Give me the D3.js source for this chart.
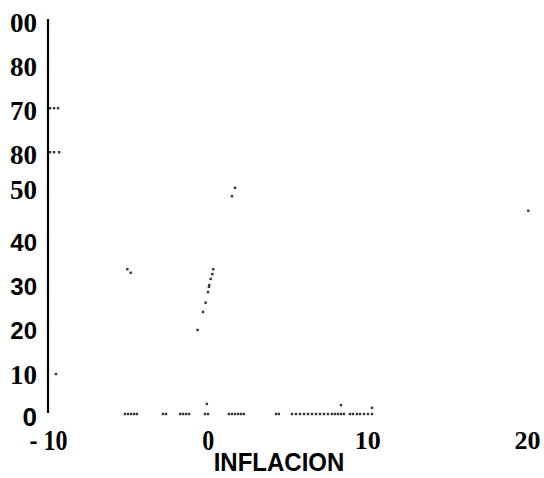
<!DOCTYPE html>
<meta charset="utf-8">
<head>
<title>Inflacion</title>
</head>
<style>
html, body { margin: 0; background: #fff; overflow: hidden; }
.serif { font-family: "Liberation Serif", "DejaVu Serif", serif; font-weight: bold; font-size: 27px; }
.sans { font-family: "Liberation Sans", Arial, sans-serif; font-weight: bold; font-size: 24px; }
.big { font-size: 26px; }
.tall { transform-box: fill-box; transform-origin: center; transform: scaleY(1.22); }
.title { transform-box: fill-box; transform-origin: center; transform: scaleY(1.08); }
</style>
<body>
<script src="https://cdn.jsdelivr.net/npm/d3@7"></script>
<script>

// y ticks and the labels as printed on the scan (the "50" sits a bit high on it)
var yTicks = [0, 10, 20, 30, 40, 52, 60, 70, 80, 90];
var yLabels = ["0", "10", "20", "30", "40", "50", "80", "70", "80", "00"];
var xTicks = [-10, 0, 10, 20];
var xLabels = ["- 10", "0", "10", "20"];
var xTitle = "INFLACION";

// scatter points (inflacion, y value)
var inflacion = [
  -5.18, -4.99, -4.80, -4.61, -4.43, -2.80, -2.61, -1.73, -1.55, -1.36, -1.17,
  -0.17, 0.02, 1.33, 1.52, 1.71, 1.90, 2.09, 2.27, 4.28, 4.46,
  5.28, 5.53, 5.78, 6.03, 6.28, 6.53, 6.78, 7.03, 7.28, 7.53,
  7.78, 7.97, 8.16, 8.35, 8.53, 8.91, 9.10, 9.35, 9.54, 9.79, 10.04, 10.29,
  -0.05, 8.35, 10.29,
  -9.87, -9.62, -9.37, -9.87, -9.62, -9.30, -9.50,
  1.71, 1.52,
  0.35, 0.29, 0.19, 0.10, 0.08, 0.02, -0.13, -0.29, -0.63,
  -5.03, -4.82, 20.08
];
var valores = [
  0, 0, 0, 0, 0, 0, 0, 0, 0, 0, 0,
  0, 0, 0, 0, 0, 0, 0, 0, 0, 0,
  0, 0, 0, 0, 0, 0, 0, 0, 0, 0,
  0, 0, 0, 0, 0, 0, 0, 0, 0, 0, 0, 0,
  2.3, 2.0, 1.4,
  69.5, 69.5, 69.5, 59.5, 59.5, 59.5, 9.1,
  51.4, 49.5,
  32.9, 31.8, 30.7, 29.3, 28.9, 27.7, 25.3, 23.2, 19.1,
  32.9, 32.1, 46.2
];

var width = 544, height = 478;
var svg = d3.select("body").append("svg")
    .attr("width", width)
    .attr("height", height);

var x = d3.scaleLinear().domain([-10, 20]).range([48, 527]);
var y = d3.scaleLinear().domain([0, 90]).range([414, 18]);

// which labels look like sans on the scan, the rest are bold serif
var sansY = {"0": 1, "20": 1, "30": 1, "40": 1};

var yAxis = svg.append("g")
    .attr("transform", "translate(" + x(-10) + ",0)")
    .call(d3.axisLeft(y)
        .tickValues(yTicks)
        .tickSize(0)
        .tickPadding(11)
        .tickFormat(function (d, i) { return yLabels[i]; }));

yAxis.select(".domain")
    .attr("stroke", "#000")
    .attr("stroke-width", 2.2)
    .attr("d", "M0,19V" + (y(0) - 1));

yAxis.selectAll("text")
    .attr("fill", "#000")
    .attr("y", function (d) { return d === 0 ? 2 : 4; })
    .attr("dy", "0.35em")
    .attr("class", function (d, i) {
        if (d === 0) return "sans big";
        return sansY[yLabels[i]] && d !== 10 ? "sans" : "serif";
    });

var xAxis = svg.append("g")
    .attr("transform", "translate(0," + y(0) + ")")
    .call(d3.axisBottom(x)
        .tickValues(xTicks)
        .tickSize(0)
        .tickFormat(function (d, i) { return xLabels[i]; }));

xAxis.select(".domain").remove();
xAxis.selectAll("text")
    .attr("fill", "#000")
    .attr("y", 26)
    .attr("dy", "0.35em")
    .attr("class", function (d) { return d <= 0 ? "serif tall" : "serif"; })
    .style("font-size", function (d) { return d <= 0 ? "24px" : "26px"; });

svg.append("text")
    .attr("class", "sans title")
    .attr("x", 279)
    .attr("y", 462)
    .attr("dy", "0.35em")
    .attr("text-anchor", "middle")
    .attr("fill", "#000")
    .text(xTitle);

var pts = inflacion.map(function (v, i) { return {x: v, y: valores[i]}; });

svg.append("g")
    .selectAll("rect")
    .data(pts)
    .enter().append("rect")
    .attr("x", function (d) { return x(d.x) - 1.2; })
    .attr("y", function (d) { return y(d.y) - 1.2; })
    .attr("width", 2.4)
    .attr("height", 2.4)
    .attr("fill", "#333");

</script>
</body>
